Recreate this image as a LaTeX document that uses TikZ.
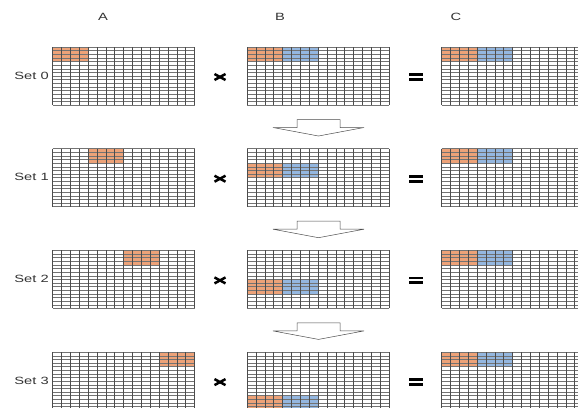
\documentclass[tikz,border=0pt]{standalone}
\usepackage{fontspec}
\setmainfont{Liberation Sans}
\usetikzlibrary{positioning, calc}
\definecolor{blockorange}{RGB}{237,162,120}
\definecolor{blockblue}{RGB}{148,183,224}
\tikzset{
  gridline/.style = {draw=black!70, line width=0.45pt},
  rowline/.style  = {draw=black!55, line width=0.45pt},
  headtext/.style = {font=\fontsize{10.5}{12}\selectfont, text=black!80, xscale=1.4, inner sep=0pt},
  settext/.style  = {headtext, anchor=east},
  downarrow/.style = {draw=black!70, line width=0.5pt, fill=white},
  opsign/.style = {black, line width=2.5pt},
}
% grid: x, y of top left corner
\newcommand{\drawgrid}[2]{%
  \foreach \j in {0,...,16} \draw[rowline] (#1,{#2+\j*3.625}) -- ++(142,0);
  \foreach \i in {0,...,16} \draw[gridline] ({#1+\i*8.875},#2) -- ++(0,58);
}
% block: colour, grid x, grid y, column, row
\newcommand{\fillblock}[5]{%
  \fill[#1] ({#2+#4*8.875},{#3+#5*3.625}) rectangle ++(35.5,14.5);
}

\begin{document}
\begin{tikzpicture}[x=1pt, y=-1pt]
  \useasboundingbox (0,0) rectangle (578,407);
  \clip (0,0) rectangle (578,407);

  % Column heads
  \node[headtext] (colA) at (103,17) {A};
  \node[headtext] (colB) at (280,17) {B};
  \node[headtext] (colC) at (456,17) {C};

  % Sets
  \foreach \s in {0,...,3} {
    \pgfmathsetmacro{\gy}{47+\s*101.7}
    \node[settext] (set\s) at (49,\gy+28.5) {Set \s};
    % A
    \fillblock{blockorange}{52.5}{\gy}{4*\s}{0}
    \drawgrid{52.5}{\gy}
    % B
    \fillblock{blockorange}{247}{\gy}{0}{4*\s}
    \fillblock{blockblue}{247}{\gy}{4}{4*\s}
    \drawgrid{247}{\gy}
    % C
    \fillblock{blockorange}{441.5}{\gy}{0}{0}
    \fillblock{blockblue}{441.5}{\gy}{4}{0}
    \drawgrid{441.5}{\gy}
    % times and equals
    \coordinate (mul\s) at (220,\gy+30);
    \draw[opsign] ($(mul\s)+(-5.5,-3)$) -- ($(mul\s)+(5.5,3)$);
    \draw[opsign] ($(mul\s)+(-5.5,3)$) -- ($(mul\s)+(5.5,-3)$);
    \coordinate (eq\s) at (416,\gy+30);
    \fill ($(eq\s)+(-7,-3.8)$) rectangle ($(eq\s)+(7,-1)$);
    \fill ($(eq\s)+(-7,1)$) rectangle ($(eq\s)+(7,3.8)$);
  }

  % Arrows between sets
  \foreach \s in {0,1,2} {
    \pgfmathsetmacro{\t}{119.5+\s*101.7}
    \draw[downarrow] (297,\t) -- (340,\t) -- (340,\t+8) -- (364,\t+8)
      -- (318.5,\t+16.5) -- (273,\t+8) -- (297,\t+8) -- cycle;
  }

\end{tikzpicture}
\end{document}
